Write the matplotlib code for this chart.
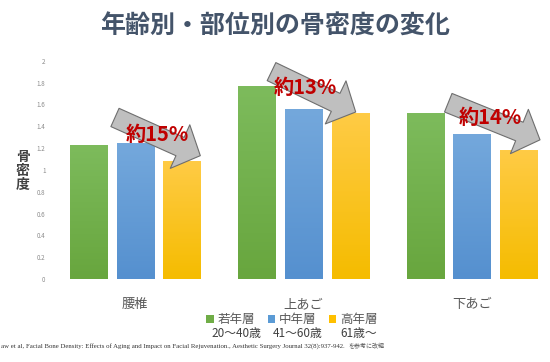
import matplotlib
matplotlib.use("Agg")
import matplotlib.pyplot as plt
import numpy as np
from matplotlib.colors import LinearSegmentedColormap
from matplotlib.patches import ArrowStyle

plt.rcParams['font.family'] = ['Noto Sans CJK JP', 'DejaVu Sans']

categories = ["腰椎", "上あご", "下あご"]
young = [1.23, 1.765, 1.52]
middle = [1.245, 1.56, 1.33]
old = [1.08, 1.52, 1.18]
series_names = ["若年層", "中年層", "高年層"]
age_ranges = ["20〜40歳", "41〜60歳", "61歳〜"]
yticks = [0, 0.2, 0.4, 0.6, 0.8, 1, 1.2, 1.4, 1.6, 1.8, 2]
ytick_labels = ["0", "0.2", "0.4", "0.6", "0.8", "1", "1.2", "1.4", "1.6", "1.8", "2"]
changes = ["約15%", "約13%", "約14%"]

colors_top = ["#7DBB5C", "#74A8DC", "#FFCB45"]
colors_bot = ["#68A63E", "#5590CF", "#F5BC00"]
colors_mid = ["#70AD47", "#5B9BD5", "#FFC000"]

fig = plt.figure(figsize=(5.5, 3.62), dpi=100)
ax = fig.add_axes([51/550, 83/362, 505/550, 218.3/362])

x = np.arange(len(categories))
w = 0.22
off = 0.278
all_bars = []
for i, vals in enumerate([young, middle, old]):
    bars = ax.bar(x + (i - 1) * off, vals, width=w, color=colors_mid[i],
                  label=series_names[i], zorder=2)
    all_bars.append(bars)
    cmap = LinearSegmentedColormap.from_list("g%d" % i, [colors_bot[i], colors_top[i]])
    for b in bars:
        x0, y0 = b.get_x(), b.get_y()
        x1, y1 = x0 + b.get_width(), y0 + b.get_height()
        grad = np.linspace(0, 1, 100).reshape(-1, 1)
        im = ax.imshow(grad, extent=[x0, x1, y0, y1], origin='lower', cmap=cmap,
                       aspect='auto', zorder=2.5)
        im.set_clip_path(b)

ax.set_xlim(-0.5, 2.5)
ax.set_ylim(0, 2)
ax.set_yticks(yticks)
ax.set_yticklabels(ytick_labels)
ax.tick_params(axis='y', length=0, labelsize=4.5, labelcolor='#8C8C8C', pad=4)
ax.set_xticks(x)
ax.set_xticklabels(categories)
ax.tick_params(axis='x', length=0, labelsize=9.5, labelcolor='#595959', pad=14)
for s in ax.spines.values():
    s.set_visible(False)

# arrows (tail -> tip) in data coordinates
arrow_tails = [(-0.12, 1.48), (-0.19, 1.90), (-0.14, 1.615)]
arrow_tips = [(0.387, 1.13), (0.31, 1.53), (0.405, 1.275)]
text_pos = [(0.13, 1.32), (0.01, 1.75), (0.107, 1.48)]
style = ArrowStyle.Simple(head_length=0.8, head_width=1.72, tail_width=0.72)
for i in range(3):
    tx, ty = arrow_tails[i]
    hx, hy = arrow_tips[i]
    ax.annotate("", xy=(x[i] + hx, hy), xytext=(x[i] + tx, ty),
                arrowprops=dict(arrowstyle=style, fc='#BFBFBF', ec='#6E6E6E', lw=0.8,
                                mutation_scale=20, shrinkA=0, shrinkB=0),
                zorder=4, annotation_clip=False)
    px, py = text_pos[i]
    ax.text(x[i] + px, py, changes[i], ha='center', va='center', fontsize=14.5,
            fontweight='bold', color='#C00000', zorder=5)

fig.text(0.5, 1 - 27/362, "年齢別・部位別の骨密度の変化", ha='center', va='center',
         fontsize=18, fontweight='bold', color='#44546A')

fig.text(23/550, 1 - 171/362, "骨\n密\n度", ha='center', va='center', fontsize=10,
         fontweight='bold', color='#404040', linespacing=1.0)

leg = fig.legend(handles=[b[0] for b in all_bars], labels=series_names, ncol=3,
                 loc='center', bbox_to_anchor=(292/550, 1 - 320/362), frameon=False,
                 fontsize=9, handlelength=0.6, handleheight=0.6, handletextpad=0.3,
                 columnspacing=1.0, labelcolor='#595959', borderpad=0)
fig.canvas.draw()
inv = fig.transFigure.inverted()
for t, age in zip(leg.get_texts(), age_ranges):
    bb = t.get_window_extent()
    cx = (bb.x0 + bb.x1) / 2
    fx, fy = inv.transform((cx, bb.y0))
    fig.text(fx, fy - 1/362, age, ha='center', va='top', fontsize=8.5, color='#404040')

# citation (left part is cut in the reference; visible part shown)
cite_latin = ("aw et al, Facial Bone Density: Effects of Aging and Impact on Facial "
              "Rejuvenation., Aesthetic Surgery Journal 32(8):937-942.")
cite_jp = "を参考に改編"
ct = fig.text(1/550, 1 - 346/362, cite_latin, ha='left', va='center', fontsize=6,
              color='#333333', family=['Liberation Serif', 'DejaVu Serif'])
fig.canvas.draw()
wpx = ct.get_window_extent().width
ct.set_fontsize(6 * 346 / wpx)
fig.text(348/550, 1 - 346/362, cite_jp, ha='left', va='center', fontsize=4.3,
         color='#555555')

fig.savefig("out.png", dpi=100, facecolor='white')
